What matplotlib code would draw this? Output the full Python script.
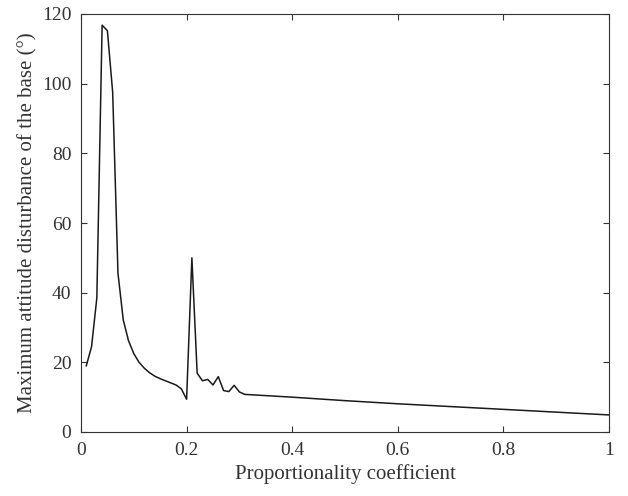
import matplotlib
matplotlib.use("Agg")
import matplotlib.pyplot as plt

x_vals = [0.01, 0.02, 0.03, 0.04, 0.05, 0.06, 0.07, 0.08, 0.09, 0.10,
          0.11, 0.12, 0.13, 0.14, 0.15, 0.16, 0.17, 0.18, 0.19, 0.20,
          0.21, 0.22, 0.23, 0.24, 0.25, 0.26, 0.27, 0.28, 0.29, 0.30,
          0.31, 0.40, 0.50, 0.60, 0.70, 0.80, 0.90, 1.00]
y_vals = [19.0, 24.5, 38.5, 116.8, 115.2, 97.5, 45.6, 32.2, 26.2, 22.5,
          20.0, 18.3, 17.0, 16.0, 15.3, 14.7, 14.1, 13.5, 12.4, 9.4,
          50.0, 16.9, 14.7, 15.1, 13.5, 15.9, 11.9, 11.6, 13.4, 11.5,
          10.8, 10.0, 9.0, 8.1, 7.3, 6.5, 5.7, 4.9]
x_ticks = [0, 0.2, 0.4, 0.6, 0.8, 1]
x_tick_labels = ["0", "0.2", "0.4", "0.6", "0.8", "1"]
y_ticks = [0, 20, 40, 60, 80, 100, 120]

plt.rcParams['font.family'] = ['Liberation Serif', 'DejaVu Serif']
fig = plt.figure(figsize=(6.28, 4.96), dpi=100)
ax = fig.add_axes([81/628, 1-432/496, (609-81)/628, (432-14)/496])
ax.plot(x_vals, y_vals, color='#1a1a1a', lw=1.1)
ax.set_xlim(0, 1)
ax.set_ylim(0, 120)
ax.set_xticks(x_ticks)
ax.set_xticklabels(x_tick_labels)
ax.set_yticks(y_ticks)
ax.tick_params(direction='in', top=True, right=True, labelsize=14, length=4, width=0.8, colors='#333333')
ax.tick_params(axis='y', pad=7)
ax.tick_params(axis='x', pad=7)
for s in ax.spines.values():
    s.set_linewidth(0.8)
    s.set_color('#333333')
ax.set_xlabel('Proportionality coefficient', fontsize=15, color='#333333', labelpad=4)
ax.set_ylabel('Maximum attitude disturbance of the base (°)', fontsize=15, color='#333333', labelpad=3)
fig.savefig('out.png', dpi=100)
